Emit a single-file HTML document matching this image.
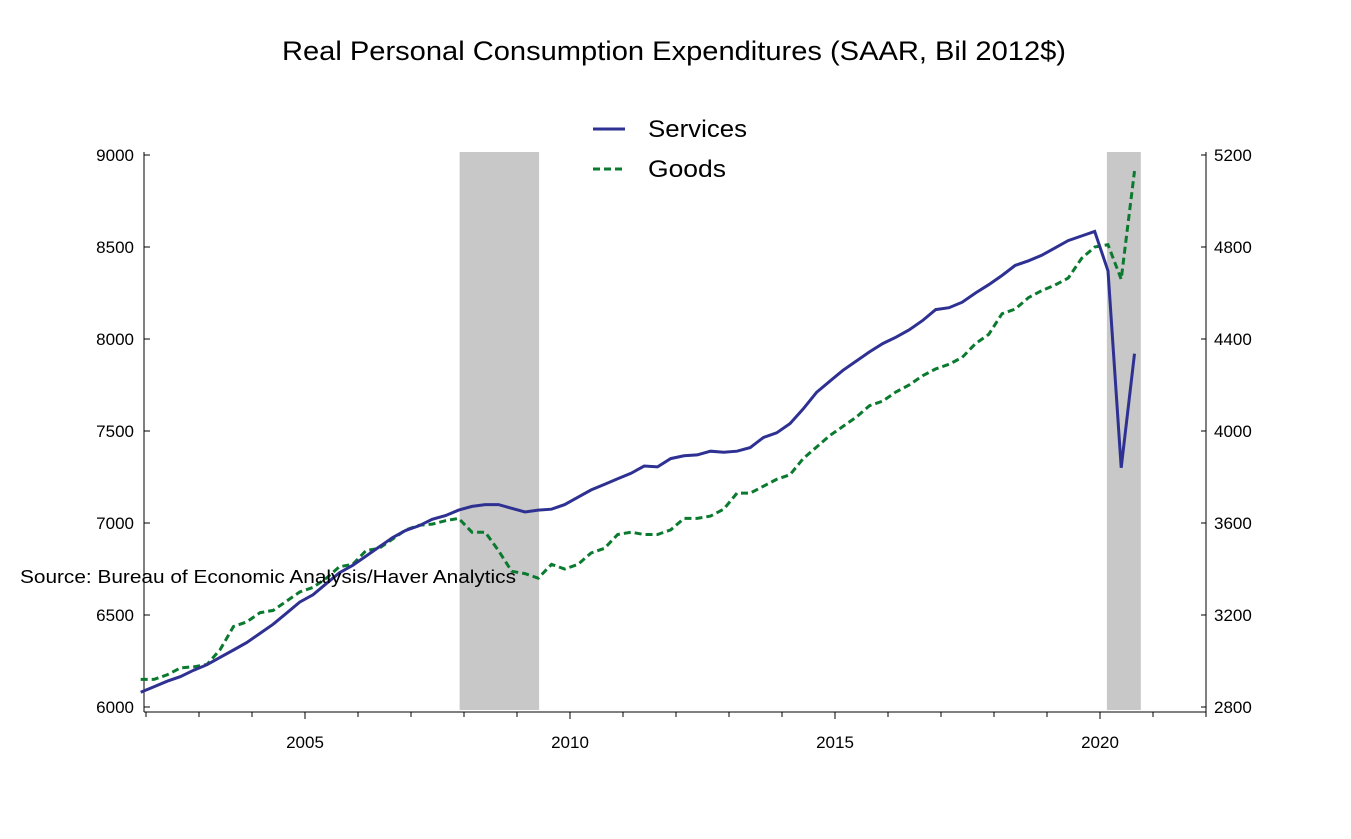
<!DOCTYPE html>
<html><head><meta charset="utf-8"><style>
html,body{margin:0;padding:0;background:#fff;}
svg{display:block;font-family:"Liberation Sans",Arial,sans-serif;}
</style></head><body>
<svg id="chart" width="1351" height="839" viewBox="0 0 1351 839">
<text x="282" y="60" font-size="27" textLength="784" lengthAdjust="spacingAndGlyphs">Real Personal Consumption Expenditures (SAAR, Bil 2012$)</text>
<g id="rec"></g>
<g id="axes"></g>
<g id="series"></g>
<g>
<line x1="593" y1="129" x2="625" y2="129" stroke="#2e3192" stroke-width="3"/>
<text x="648" y="137" font-size="24" textLength="99" lengthAdjust="spacingAndGlyphs">Services</text>
<line x1="593" y1="169" x2="625" y2="169" stroke="#0a7a2e" stroke-width="3" stroke-dasharray="7,4"/>
<text x="648" y="177" font-size="24" textLength="78" lengthAdjust="spacingAndGlyphs">Goods</text>
</g>
<text x="20" y="583" font-size="18" textLength="496" lengthAdjust="spacingAndGlyphs">Source:  Bureau of Economic Analysis/Haver Analytics</text>
</svg>
<script>
const startYear = 2001.75; // first quarter = 2001Q4
const services = [6080,
6110,6140,6165,6200, 6230,6270,6310,6350, 6400,6450,6510,6570, 6610,6670,6730,6770,
6820,6870,6920,6960, 6985,7020,7040,7070, 7090,7100,7100,7080, 7060,7070,7075,7100,
7140,7180,7210,7240, 7270,7310,7305,7350, 7365,7370,7390,7385, 7390,7410,7465,7490,
7540,7620,7710,7770, 7830,7880,7930,7975, 8010,8050,8100,8160, 8170,8200,8250,8295,
8345,8400,8425,8455, 8495,8535,8560,8585, 8370,7300,7920];
const goods = [2920,
2920,2940,2970,2975, 2985,3050,3150,3170, 3210,3220,3260,3300, 3320,3360,3410,3420,
3480,3490,3530,3570, 3590,3595,3610,3620, 3560,3560,3480,3390, 3380,3360,3420,3400,
3420,3470,3490,3550, 3560,3550,3550,3570, 3620,3620,3630,3660, 3730,3730,3760,3790,
3810,3880,3930,3980, 4020,4060,4110,4130, 4170,4200,4240,4270, 4290,4320,4380,4420,
4510,4530,4580,4610, 4635,4665,4750,4800, 4810,4660,5130];
const leftTicks = [6000,6500,7000,7500,8000,8500,9000];
const rightTicks = [2800,3200,3600,4000,4400,4800,5200];
const xTickLabels = [2005,2010,2015,2020];
const recessions = [[2007.917,2009.417],[2020.13,2020.77]];

const NS="http://www.w3.org/2000/svg";
const X0=146,X1=1206,Y0=707,Y1=155;
const xs=y=>X0+(y-2002)*53;
const yl=v=>Y0-(v-6000)/3000*(Y0-Y1);
const yr=v=>Y0-(v-2800)/2400*(Y0-Y1);
function mk(t,a,p){const e=document.createElementNS(NS,t);for(const k in a)e.setAttribute(k,a[k]);p.appendChild(e);return e;}
const rec=document.getElementById('rec'),ax=document.getElementById('axes'),se=document.getElementById('series');
recessions.forEach(r=>{
  const e=mk('rect',{x:xs(r[0]),y:Y1-3,width:xs(r[1])-xs(r[0]),height:Y0-Y1+6,fill:'#c8c8c8'},rec);
  
  
});
mk('line',{x1:X0-2,y1:Y1-3,x2:X0-2,y2:Y0+5,stroke:'#000'},ax);
mk('line',{x1:X1,y1:Y1-3,x2:X1,y2:Y0+5,stroke:'#000'},ax);
mk('line',{x1:X0-2,y1:Y0+5,x2:X1,y2:Y0+5,stroke:'#000'},ax);
leftTicks.forEach(v=>{
  mk('line',{x1:X0-2,y1:yl(v),x2:X0+4,y2:yl(v),stroke:'#000'},ax);
  const t=mk('text',{x:X0-12,y:yl(v)+6,'text-anchor':'end','font-size':17},ax);t.textContent=v;
  
  
});
rightTicks.forEach(v=>{
  mk('line',{x1:X1-5,y1:yr(v),x2:X1,y2:yr(v),stroke:'#000'},ax);
  const t=mk('text',{x:X1+8,y:yr(v)+6,'font-size':17},ax);t.textContent=v;
  
  
});
for(let y=2002;y<=2022;y++){
  mk('line',{x1:xs(y),y1:Y0+5,x2:xs(y),y2:Y0+(y%5===0?12:10),stroke:'#000'},ax);
}
xTickLabels.forEach(y=>{
  const t=mk('text',{x:xs(y),y:Y0+41,'text-anchor':'middle','font-size':17},ax);t.textContent=y;
  
  
});
function pts(arr,f){return arr.map((v,i)=>xs(startYear+i*0.25+0.15).toFixed(1)+','+f(v).toFixed(1)).join(' ');}
const g=mk('polyline',{points:pts(goods,yr),fill:'none',stroke:'#0a7a2e','stroke-width':3,'stroke-dasharray':'7,4'},se);


const s=mk('polyline',{points:pts(services,yl),fill:'none',stroke:'#2e3192','stroke-width':3},se);


</script>
</body></html>
